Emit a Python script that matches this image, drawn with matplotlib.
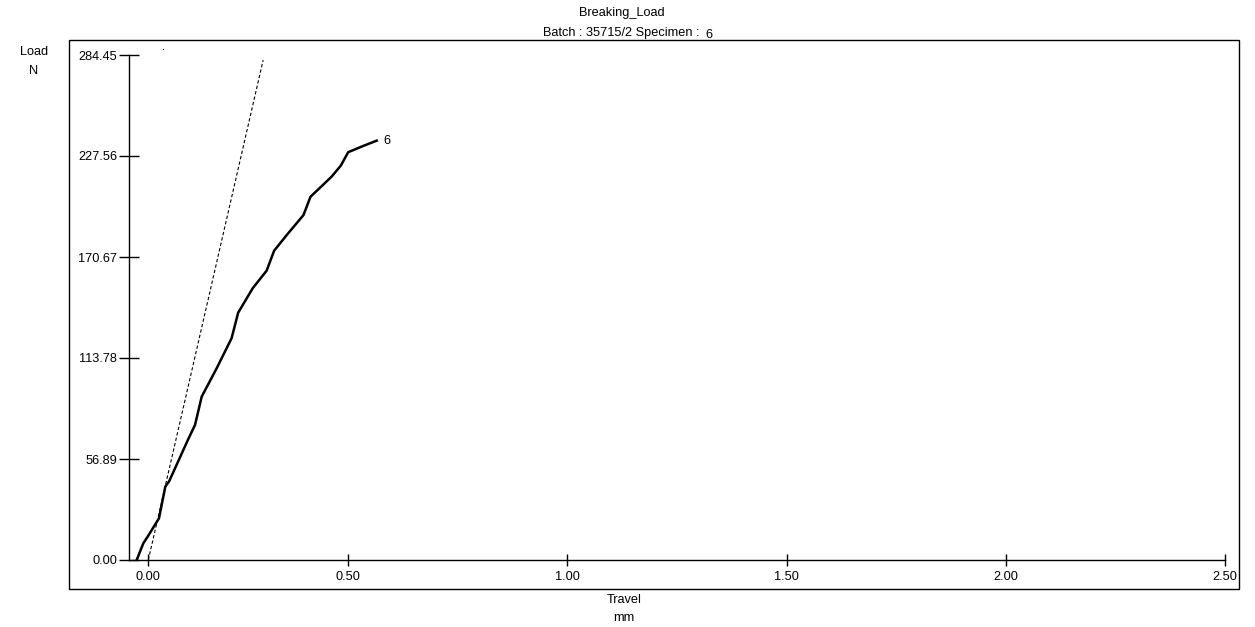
import matplotlib
matplotlib.use("Agg")
import matplotlib.pyplot as plt
from matplotlib.patches import Rectangle

# --- data ---
travel = [0.0176, 0.0326, 0.0417, 0.0684, 0.0828, 0.0919, 0.135, 0.1505, 0.1658,
          0.200, 0.234, 0.249, 0.282, 0.314, 0.331, 0.360, 0.398, 0.414, 0.462,
          0.483, 0.500, 0.534, 0.565]
load = [0.0, 9.4, 12.8, 23.5, 41.3, 44.5, 68.0, 76.0, 92.0, 108.0, 124.9, 139.3,
        153.0, 163.0, 174.2, 183.1, 194.3, 204.6, 215.9, 222.1, 229.7, 233.2, 236.2]

# modulus (tangent) line
fit_travel = [0.044, 0.306]
fit_load = [0.0, 281.6]
stray_point = (0.078, 288.0)

y_ticks = [0.00, 56.89, 113.78, 170.67, 227.56, 284.45]
x_ticks = [0.044, 0.5, 1.0, 1.5, 2.0, 2.5]
x_tick_labels = ["0.00", "0.50", "1.00", "1.50", "2.00", "2.50"]
specimen = "6"

plt.rcParams['font.family'] = ['Liberation Sans', 'DejaVu Sans']
FS = 9.2
W, H = 1255, 627
fig = plt.figure(figsize=(W / 100, H / 100), dpi=100)
fig.patch.set_facecolor("white")

# axes placed in pixel coordinates of the original
left, right, top, bottom = 129, 1225, 55, 560
ax = fig.add_axes([left / W, 1 - bottom / H, (right - left) / W, (bottom - top) / H])
ax.set_xlim(0, 2.5)
ax.set_ylim(0, 284.45)

ax.plot(travel, load, color="black", lw=1.8, solid_joinstyle="miter")
ax.plot(fit_travel, fit_load, color="black", lw=0.8, linestyle=(0, (3, 2)))
ax.plot([stray_point[0]], [stray_point[1]], marker="s", ms=0.7, mew=0,
        color="black", clip_on=False)
ax.annotate(specimen, (travel[-1], load[-1]), xytext=(5, 0),
            textcoords="offset points", fontsize=FS, va="center")

for s in ["top", "right"]:
    ax.spines[s].set_visible(False)
for s in ["left", "bottom"]:
    ax.spines[s].set_linewidth(1.0)

ax.set_yticks(y_ticks)
ax.set_yticklabels([f"{v:.2f}" for v in y_ticks])
ax.set_xticks(x_ticks)
ax.set_xticklabels(x_tick_labels)
ax.tick_params(axis="y", direction="inout", length=15, width=1.0, pad=1, labelsize=FS)
ax.tick_params(axis="x", direction="inout", length=8, width=1.0, pad=4, labelsize=FS)

# outer frame
fig.patches.append(Rectangle((69 / W, 1 - 589 / H), (1239 - 69) / W, (589 - 40) / H,
                             transform=fig.transFigure, fill=False, lw=1.0,
                             edgecolor="black"))

def ftext(x, y, s, ha="center"):
    fig.text(x / W, 1 - y / H, s, ha=ha, va="center", fontsize=FS)

ftext(622, 13, "Breaking_Load")
ftext(700, 33, "Batch : 35715/2 Specimen :", ha="right")
ftext(709, 35, specimen)
ftext(34, 52, "Load")
ftext(34, 71, "N")
ftext(624, 600, "Travel")
ftext(624, 618, "mm")

fig.savefig("out.png", dpi=100)
